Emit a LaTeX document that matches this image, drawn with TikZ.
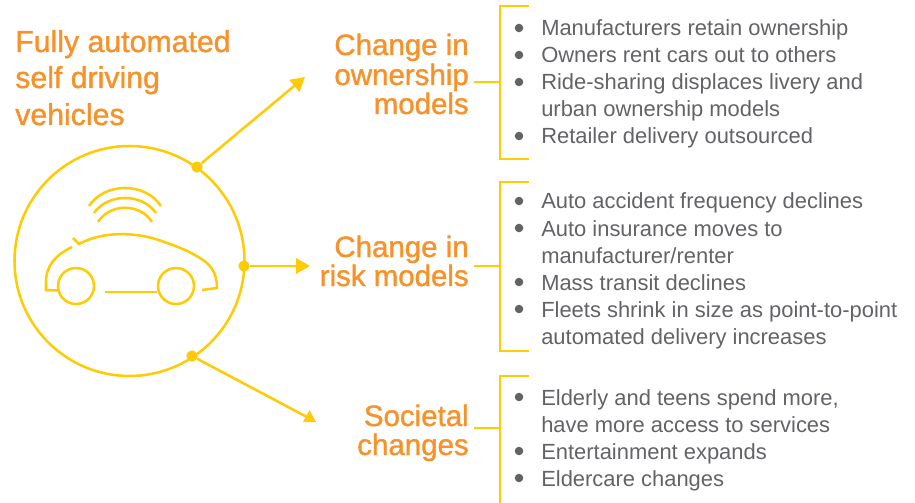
\documentclass[tikz,border=0pt]{standalone}
\usepackage{fontspec}
\setmainfont{Liberation Sans}
\newfontfamily\pesante[FakeBold=1.2]{Liberation Sans}
\usetikzlibrary{arrows.meta}
\definecolor{giallo}{HTML}{FFCB05}
\definecolor{arancio}{HTML}{F7922A}
\definecolor{grigio}{HTML}{626366}
\tikzset{
    linea/.style = {draw = giallo, line width = 1.9pt},
    freccia/.style = {linea, -{Triangle[length = 10.5pt, width = 11.5pt]}},
    pallino/.style = {circle, fill = giallo, inner sep = 0pt, minimum size = 8.5pt},
    titolo/.style = {text = arancio, font = \pesante\fontsize{22.7}{27}\selectfont, inner sep = 0pt, anchor = base west},
    etichetta/.style = {text = arancio, font = \pesante\fontsize{22.1}{27}\selectfont, inner sep = 0pt, anchor = base east},
    voce/.style = {text = grigio, font = \fontsize{16.45}{20}\selectfont, inner sep = 0pt, anchor = base west},
    punto/.style = {circle, fill = grigio, inner sep = 0pt, minimum size = 6.4pt}
}
\begin{document}
\begin{tikzpicture}[x = 0.75pt, y = -0.75pt]
    \useasboundingbox (0,0) rectangle (915,503);
    % Titolo
    \node[titolo] (riga1) at (15,52) {Fully automated};
    \node[titolo] (riga2) at (15,88) {self driving};
    \node[titolo] (riga3) at (15,125) {vehicles};
    % Cerchio
    \draw[linea] (129.5,261) circle (115);
    % Onde
    \draw[linea] (89,206) .. controls (105,182) and (145,182) .. (161,206);
    \draw[linea] (94,213) .. controls (108,193) and (142,193) .. (156,213);
    \draw[linea] (98,222) .. controls (110,203) and (140,203) .. (152,222);
    % Auto
    \draw[linea] (72,247) .. controls (56,255) and (46,265) .. (46,282) -- (46,290) -- (58,290.5);
    \draw[linea] (73,238) -- (79,244) .. controls (105,230) and (140,232) .. (167,243) .. controls (185,249) and (195,255) .. (200,258) .. controls (210,264) and (217,272) .. (217,288) -- (202,290);
    \draw[linea] (76,286) circle (18);
    \draw[linea] (176,286) circle (18);
    \draw[linea] (105,292) -- (157,292);
    % Pallini e frecce
    \node[pallino] (su) at (197,167) {};
    \node[pallino] (centro) at (244,266) {};
    \node[pallino] (giu) at (192,356) {};
    \coordinate (finesu) at (305,77);
    \coordinate (finecentro) at (310,266);
    \coordinate (finegiu) at (307,417);
    \draw[freccia] (su) -- (finesu);
    \draw[freccia] (centro) -- (finecentro);
    \draw[linea] (giu) -- (finegiu);
    \fill[giallo] (309.5,410) -- (316,422) -- (303,422) -- cycle;
    % Etichette
    \node[etichetta] (a1) at (469,55) {Change in};
    \node[etichetta] (a2) at (469,85) {ownership};
    \node[etichetta] (a3) at (469,114) {models};
    \node[etichetta] (b1) at (469,257) {Change in};
    \node[etichetta] (b2) at (469,286) {risk models};
    \node[etichetta] (c1) at (469,426) {Societal};
    \node[etichetta] (c2) at (469,455) {changes};
    % Parentesi
    \draw[linea] (529,6) -- (500,6) -- (500,159) -- (529,159);
    \draw[linea] (474,82) -- (500,82);
    \draw[linea] (529,182) -- (500,182) -- (500,351) -- (529,351);
    \draw[linea] (474,266) -- (500,266);
    \draw[linea] (529,376) -- (500,376) -- (500,503);
    \draw[linea] (474,428) -- (500,428);
    % Voci
    \foreach \y/\testo in {36/Manufacturers retain ownership, 63/Owners rent cars out to others, 90/Ride-sharing displaces livery and, 144/Retailer delivery outsourced, 209/Auto accident frequency declines, 236/Auto insurance moves to, 290/Mass transit declines, 317/Fleets shrink in size as point-to-point, 405/{Elderly and teens spend more,}, 459/Entertainment expands, 486/Eldercare changes}{
        \node[punto] at (519,\y-8) {};
        \node[voce] at (541,\y) {\testo};
    };
    \foreach \y/\testo in {117/urban ownership models, 263/{manufacturer/renter}, 344/automated delivery increases, 432/have more access to services}{
        \node[voce] at (541,\y) {\testo};
    };
\end{tikzpicture}
\end{document}
